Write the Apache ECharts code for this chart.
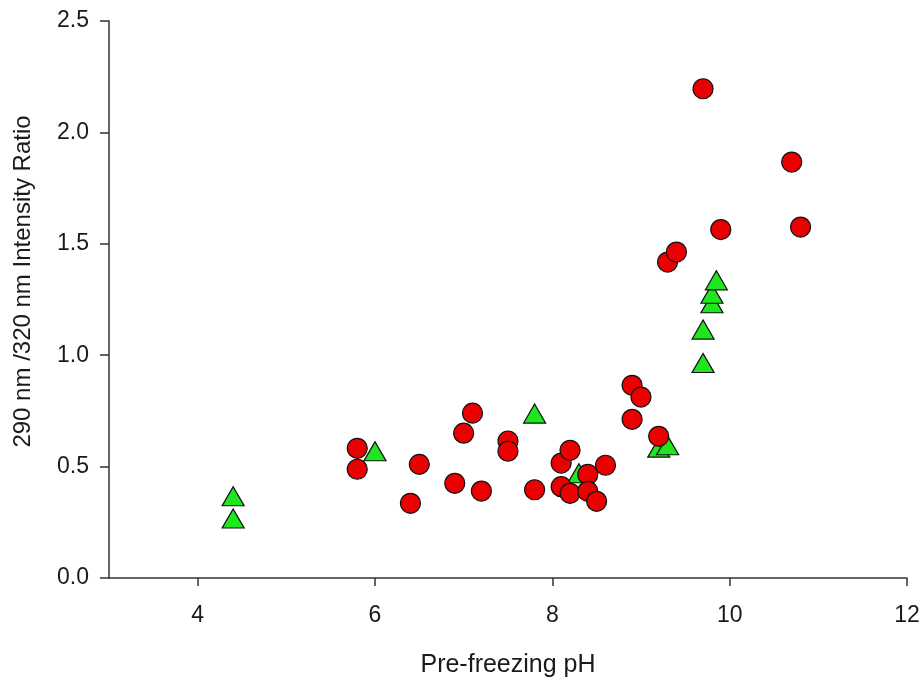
<!DOCTYPE html>
<html>
<head>
<meta charset="utf-8">
<script src="https://cdn.jsdelivr.net/npm/echarts@6/dist/echarts.min.js"></script>
<style>
  html, body { margin: 0; padding: 0; background: #fff; }
  #chart { width: 924px; height: 678px; }
</style>
</head>
<body>
<div id="chart"></div>
<script>
// circles (red)
const circlePH = [5.8, 5.8, 6.4, 6.5, 6.9, 7.0, 7.1, 7.2, 7.5, 7.5, 7.8, 8.1, 8.2, 8.1, 8.2, 8.4, 8.4, 8.5, 8.6, 8.9, 9.0, 8.9, 9.2, 9.3, 9.4, 9.9, 9.7, 10.7, 10.8]
const circleRatio = [0.582, 0.488, 0.335, 0.51, 0.425, 0.65, 0.74, 0.39, 0.615, 0.569, 0.396, 0.516, 0.573, 0.41, 0.38, 0.465, 0.389, 0.344, 0.506, 0.865, 0.812, 0.712, 0.636, 1.418, 1.463, 1.564, 2.196, 1.867, 1.575]
// triangles (green)
const trianglePH = [4.4, 4.4, 6.0, 7.8, 8.3, 9.2, 9.3, 9.7, 9.7, 9.8, 9.8, 9.85]
const triangleRatio = [0.367, 0.267, 0.569, 0.738, 0.47, 0.585, 0.596, 0.965, 1.115, 1.233, 1.276, 1.336]
// tick labels
const xTicks = [4, 6, 8, 10, 12]
const yTicks = [0, 0.5, 1.0, 1.5, 2.0, 2.5]

const zip = (xs, ys) => xs.map((x, i) => [x, ys[i]])

const axisColor = '#333'
const textColor = '#1a1a1a'
const font = 'Liberation Sans, Arial, sans-serif'

const myChart = echarts.init(document.getElementById('chart'))
const option = {
  animation: false,
  backgroundColor: '#fff',
  grid: { left: 109, right: 17, top: 21, bottom: 100, outerBoundsMode: 'none' },
  xAxis: {
    type: 'value',
    min: 3,
    max: 12,
    name: 'Pre-freezing pH',
    nameLocation: 'middle',
    nameGap: 75,
    nameTextStyle: { fontSize: 25, color: textColor, fontFamily: font },
    splitLine: { show: false },
    axisLine: { show: true, lineStyle: { color: axisColor, width: 1.5 } },
    axisTick: { show: true, length: 8, lineStyle: { color: axisColor, width: 1.5 }, customValues: xTicks },
    axisLabel: { fontSize: 23, color: textColor, fontFamily: font, margin: 26, customValues: xTicks }
  },
  yAxis: {
    type: 'value',
    min: 0,
    max: 2.5,
    name: '290 nm /320 nm Intensity Ratio',
    nameLocation: 'middle',
    nameGap: 74,
    nameTextStyle: { fontSize: 24, color: textColor, fontFamily: font, padding: [0, 0, 0, 36] },
    splitLine: { show: false },
    axisLine: { show: true, lineStyle: { color: axisColor, width: 1.5 } },
    axisTick: { show: true, length: 9, lineStyle: { color: axisColor, width: 1.5 }, customValues: yTicks },
    axisLabel: {
      fontSize: 23, color: textColor, fontFamily: font, margin: 20, customValues: yTicks,
      formatter: v => v.toFixed(1)
    }
  },
  series: [
    {
      type: 'scatter',
      data: zip(trianglePH, triangleRatio),
      symbol: 'triangle',
      symbolSize: [22, 19],
      itemStyle: { color: '#1fe61f', borderColor: '#111', borderWidth: 1.2, opacity: 1 }
    },
    {
      type: 'scatter',
      data: zip(circlePH, circleRatio),
      symbol: 'circle',
      symbolSize: 20,
      itemStyle: { color: '#ea0000', borderColor: '#111', borderWidth: 1.2, opacity: 1 }
    }
  ]
}
option && myChart.setOption(option)
</script>
</body>
</html>
